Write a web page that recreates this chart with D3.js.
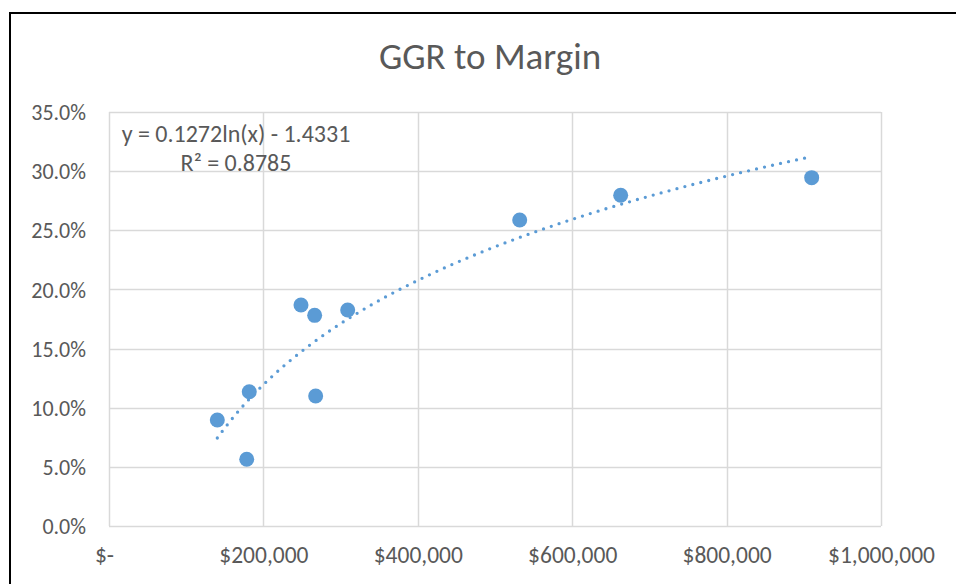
<!DOCTYPE html>
<html>
<head>
<meta charset="utf-8">
<script src="https://cdn.jsdelivr.net/npm/d3@7.9.0/dist/d3.min.js"></script>
<style>
  html, body { margin: 0; padding: 0; background: #fff; }
  svg { display: block; font-family: Carlito, Calibri, Lato, sans-serif; }
</style>
</head>
<body>
<svg id="chart" width="956" height="584"></svg>
<script>
// GGR (x) vs margin (y)
const ggr = [140300, 178400, 181700, 267700, 248700, 266400, 309200, 532000, 662800, 910200];
const margin = [0.0896, 0.0564, 0.1135, 0.1099, 0.1868, 0.1781, 0.1826, 0.2587, 0.2796, 0.2945];

// log trendline shown on the chart: y = a ln(x) + b
const trendCoef = [0.1272, -1.4331];
const trendLabel = ['y = 0.1272ln(x) - 1.4331', 'R² = 0.8785'];

const xTicks = [0, 200000, 400000, 600000, 800000, 1000000];
const yTicks = [0, 0.05, 0.10, 0.15, 0.20, 0.25, 0.30, 0.35];

const svg = d3.select('#chart');
const grey = '#595959';
const blue = '#5B9BD5';
const font = 'Carlito, Calibri, Lato, sans-serif';

// outer chart border (runs off the right / bottom of the picture)
svg.append('rect')
  .attr('x', 10).attr('y', 13)
  .attr('width', 980).attr('height', 620)
  .attr('fill', 'none')
  .attr('stroke', '#000')
  .attr('stroke-width', 2);

const x = d3.scaleLinear().domain([0, 1000000]).range([109, 881]);
const y = d3.scaleLinear().domain([0, 0.35]).range([526, 112]);

// gridlines
svg.append('g')
  .selectAll('line')
  .data(yTicks)
  .join('line')
  .attr('x1', x(0)).attr('x2', x(1000000))
  .attr('y1', (d) => Math.round(y(d)) + 0.5)
  .attr('y2', (d) => Math.round(y(d)) + 0.5)
  .attr('stroke', '#d9d9d9')
  .attr('stroke-width', 1.5);

svg.append('g')
  .selectAll('line')
  .data(xTicks)
  .join('line')
  .attr('y1', y(0)).attr('y2', y(0.35))
  .attr('x1', (d) => Math.round(x(d)) + 0.5)
  .attr('x2', (d) => Math.round(x(d)) + 0.5)
  .attr('stroke', '#d9d9d9')
  .attr('stroke-width', 1.5);

// axis labels
const yAxis = svg.append('g')
  .attr('transform', 'translate(109,0)')
  .call(d3.axisLeft(y).tickValues(yTicks).tickFormat(d3.format('.1%')).tickSize(0).tickPadding(23));
yAxis.attr('font-family', font).attr('font-size', 22);
yAxis.select('.domain').remove();
yAxis.selectAll('text')
  .attr('fill', grey)
  .attr('dy', '0.35em');

const xAxis = svg.append('g')
  .attr('transform', 'translate(0,526)')
  .call(d3.axisBottom(x).tickValues(xTicks)
    .tickFormat((d) => (d === 0 ? '$-' : '$' + d3.format(',')(d)))
    .tickSize(0).tickPadding(20));
xAxis.attr('font-family', font).attr('font-size', 23.5);
xAxis.select('.domain').remove();
xAxis.selectAll('text')
  .attr('fill', grey)
  .attr('dx', (d) => (d === 0 ? -5 : 0));

// title
svg.append('text')
  .attr('x', 490).attr('y', 69)
  .attr('text-anchor', 'middle')
  .attr('fill', grey)
  .style('font-size', '37px')
  .text('GGR to Margin');

// dotted trendline
const trendX = d3.range(0, 101).map((i) => d3.min(ggr) + (d3.max(ggr) - d3.min(ggr)) * i / 100);
const trendLine = d3.line()
  .x((d) => x(d))
  .y((d) => y(trendCoef[0] * Math.log(d) + trendCoef[1]));

svg.append('path')
  .datum(trendX)
  .attr('d', trendLine)
  .attr('fill', 'none')
  .attr('stroke', blue)
  .attr('stroke-width', 3.3)
  .attr('stroke-linecap', 'round')
  .attr('stroke-dasharray', '0 8.2');

// points
svg.append('g')
  .selectAll('circle')
  .data(ggr.map((g, i) => [g, margin[i]]))
  .join('circle')
  .attr('cx', (d) => x(d[0]))
  .attr('cy', (d) => y(d[1]))
  .attr('r', 7.5)
  .attr('fill', blue);

// equation label
svg.append('g')
  .selectAll('text')
  .data(trendLabel)
  .join('text')
  .attr('x', 236)
  .attr('y', (d, i) => 142 + i * 29)
  .attr('text-anchor', 'middle')
  .attr('fill', grey)
  .style('font-size', '24px')
  .text((d) => d);
</script>
</body>
</html>
